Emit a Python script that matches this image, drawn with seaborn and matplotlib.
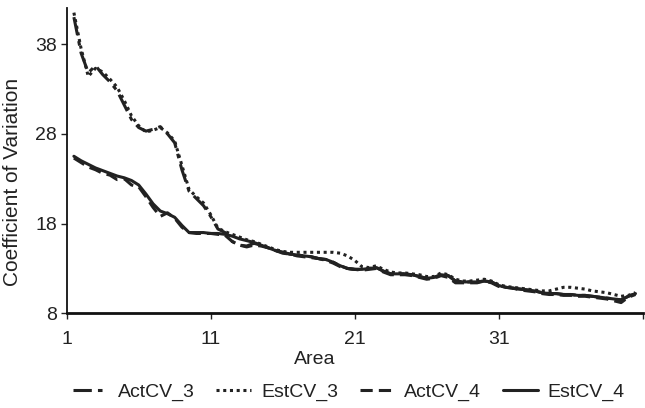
import matplotlib
matplotlib.use("Agg")
import matplotlib.pyplot as plt
import seaborn as sns
import pandas as pd

# Area positions shared by all four series
area = [1.5, 2.0, 2.5, 3.0, 3.5, 4.0, 4.5, 5.0, 5.5, 6.0, 6.5, 7.0, 7.5, 8.0, 8.5,
        9.0, 9.5, 10.0, 10.5, 11.0, 11.5, 12.0, 12.5, 13.0, 13.5, 14.0, 14.5, 15.0,
        15.5, 16.0, 16.5, 17.0, 17.5, 18.0, 18.5, 19.0, 19.5, 20.0, 20.5, 21.0, 21.5,
        22.0, 22.5, 23.0, 23.5, 24.0, 24.5, 25.0, 25.5, 26.0, 26.5, 27.0, 27.5, 28.0,
        28.5, 29.0, 29.5, 30.0, 30.5, 31.0, 31.5, 32.0, 32.5, 33.0, 33.5, 34.0, 34.5,
        35.0, 35.5, 36.0, 36.5, 37.0, 37.5, 38.0, 38.5, 39.0, 39.5, 40.0, 40.5]

est_cv_4 = [25.5, 25.0, 24.6, 24.2, 23.9, 23.6, 23.3, 23.1, 22.8, 22.3, 21.3, 20.2, 19.4,
            19.1, 18.7, 17.8, 17.0, 17.0, 17.0, 16.9, 16.9, 16.8, 16.6, 16.3, 16.1, 15.9,
            15.6, 15.3, 15.0, 14.8, 14.6, 14.5, 14.4, 14.3, 14.1, 14.0, 13.7, 13.3, 13.0,
            12.9, 12.9, 13.0, 13.1, 12.7, 12.4, 12.4, 12.4, 12.3, 12.1, 11.9, 12.0, 12.3,
            12.2, 11.6, 11.5, 11.5, 11.5, 11.6, 11.5, 11.1, 10.9, 10.8, 10.7, 10.6, 10.5,
            10.3, 10.2, 10.2, 10.1, 10.1, 10.0, 10.0, 9.9, 9.8, 9.7, 9.6, 9.5, 9.9, 10.2]

act_cv_4 = [25.3, 24.8, 24.3, 24.0, 23.6, 23.4, 22.9, 23.0, 22.3, 22.1, 21.0, 19.8, 18.8,
            19.2, 18.6, 17.6, 17.0, 16.9, 16.9, 16.9, 16.8, 16.7, 16.0, 15.6, 15.4, 15.6,
            15.5, 15.3, 15.0, 14.7, 14.6, 14.4, 14.3, 14.2, 14.1, 13.9, 13.6, 13.2, 13.0,
            12.9, 12.8, 12.9, 13.0, 12.6, 12.3, 12.3, 12.3, 12.2, 12.0, 11.8, 11.9, 12.2,
            12.0, 11.4, 11.4, 11.4, 11.4, 11.6, 11.4, 11.0, 10.9, 10.8, 10.6, 10.5, 10.4,
            10.2, 10.1, 10.1, 10.0, 10.0, 9.9, 9.9, 9.8, 9.7, 9.6, 9.4, 9.2, 9.8, 10.1]

est_cv_3 = [41.5, 37.5, 34.4, 35.3, 34.9, 34.1, 33.2, 31.7, 30.0, 28.9, 28.2, 28.4, 28.7,
            28.1, 27.2, 24.5, 21.8, 21.0, 20.3, 19.0, 17.5, 17.1, 16.8, 16.5, 16.2, 16.0,
            15.7, 15.4, 15.1, 14.9, 14.8, 14.8, 14.8, 14.8, 14.8, 14.8, 14.8, 14.7, 14.4,
            13.9, 13.2, 13.1, 13.3, 12.9, 12.6, 12.5, 12.5, 12.4, 12.3, 12.1, 12.1, 12.5,
            12.3, 11.8, 11.6, 11.6, 11.7, 11.8, 11.6, 11.2, 11.0, 10.9, 10.8, 10.7, 10.6,
            10.5, 10.5, 10.7, 10.9, 10.9, 10.8, 10.7, 10.5, 10.4, 10.3, 10.1, 9.9, 10.0, 10.3]

act_cv_3 = [41.0, 37.0, 34.8, 35.6, 34.6, 33.8, 32.8, 31.2, 29.6, 28.7, 28.3, 28.5, 28.8,
            28.0, 27.0, 24.0, 21.6, 20.8, 20.0, 18.8, 17.4, 17.0, 16.0, 15.6, 15.5, 15.8,
            15.6, 15.3, 15.0, 14.8, 14.6, 14.5, 14.4, 14.3, 14.1, 14.0, 13.7, 13.3, 13.0,
            12.9, 12.9, 13.0, 13.1, 12.7, 12.4, 12.4, 12.4, 12.3, 12.1, 11.9, 12.0, 12.3,
            12.2, 11.6, 11.5, 11.5, 11.5, 11.6, 11.5, 11.1, 10.9, 10.8, 10.7, 10.6, 10.5,
            10.3, 10.2, 10.2, 10.1, 10.1, 10.0, 10.0, 9.9, 9.8, 9.7, 9.6, 9.5, 9.9, 10.2]

series_names = ["ActCV_3", "EstCV_3", "ActCV_4", "EstCV_4"]
x_ticks = [1, 11, 21, 31, 41]
x_tick_labels = ["1", "11", "21", "31", ""]
y_ticks = [8, 18, 28, 38]

records = []
for name, values in zip(series_names, [act_cv_3, est_cv_3, act_cv_4, est_cv_4]):
    for a, v in zip(area, values):
        records.append({"Area": a, "CV": v, "series": name})
df = pd.DataFrame.from_records(records)

sns.set_theme(style="ticks")
plt.rcParams["font.family"] = ["Liberation Sans", "DejaVu Sans"]

fig = plt.figure(figsize=(6.45, 4.08), dpi=100)
ax = fig.add_axes([0.1034, 0.232, 0.893, 0.748])

dashes = {
    "ActCV_3": (6, 2, 1.5, 2),
    "EstCV_3": (1, 1.2),
    "ActCV_4": (4, 2),
    "EstCV_4": "",
}
sns.lineplot(data=df, x="Area", y="CV", style="series", dashes=dashes,
             color="#222222", linewidth=2.2, ax=ax, sort=False)

ax.set_xlim(1, 41)
ax.set_ylim(8, 42)
ax.set_xticks(x_ticks)
ax.set_xticklabels(x_tick_labels)
ax.set_yticks(y_ticks)
sns.despine(ax=ax)
ax.spines["left"].set_linewidth(1.3)
ax.spines["bottom"].set_linewidth(2)
ax.spines["left"].set_color("#111111")
ax.spines["bottom"].set_color("#111111")
ax.tick_params(axis="both", labelsize=14, colors="#222222", length=4, width=1)
ax.tick_params(axis="x", pad=9)
ax.tick_params(axis="y", pad=3)

ax.set_xlabel("Area", fontsize=14, color="#222222")
ax.set_ylabel("Coefficient of Variation", fontsize=15, color="#222222")
ax.xaxis.set_label_coords(0.43, -0.125)
ax.yaxis.set_label_coords(-0.077, 0.43)

handles, labels = ax.get_legend_handles_labels()
ax.get_legend().remove()
fig.legend(handles, labels, loc="center", bbox_to_anchor=(0.541, 0.038), ncol=4,
           frameon=False, fontsize=14, handlelength=1.8, columnspacing=1.1,
           handletextpad=0.5, labelcolor="#222222")

plt.savefig("out.png", dpi=100)
